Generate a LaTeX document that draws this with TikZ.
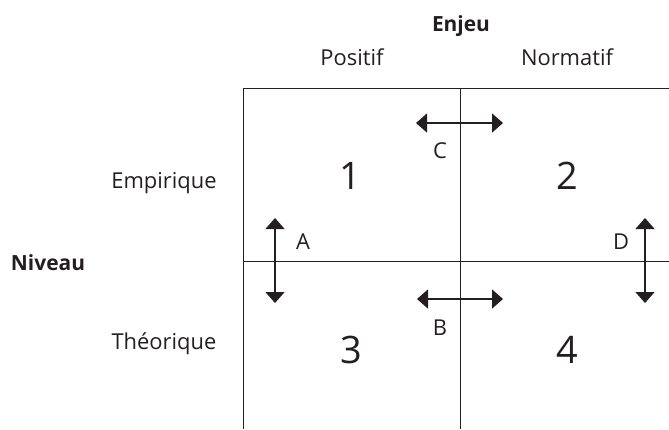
\documentclass[tikz,border=0pt]{standalone}
\usepackage{fontspec}
\setmainfont{Open Sans}
\usetikzlibrary{arrows.meta,positioning}
\definecolor{ink}{RGB}{35,31,32}

\begin{document}
\begin{tikzpicture}[x=1bp,y=-1bp,<->,>={Triangle[width=19bp,length=11bp]},line width=1.5bp,ink,
  lbl/.style={anchor=base,inner sep=0pt,font=\fontsize{22}{26}\selectfont},
  head/.style={lbl,font=\fontsize{21}{26}\selectfont\bfseries},
  num/.style={anchor=base,inner sep=0pt,font=\fontsize{38}{44}\selectfont},
  grid/.style={-,line width=1bp}]
	  \useasboundingbox (0,0) rectangle (669,429);
	  % frame
	  \coordinate (tl) at (243,88);
	  \coordinate (tr) at (669,88);
	  \coordinate (tm) at (460,88);
	  \coordinate (bl) at (243,429);
	  \coordinate (bm) at (460,429);
	  \coordinate (ml) at (243,261);
	  \coordinate (mr) at (669,261);
	  \draw[grid] (bl) -- (tl) -- (tr);
	  \draw[grid] (tm) -- (bm);
	  \draw[grid] (ml) -- (mr);
	  % headers
	  \node[head] (enjeu) at (461,31) {Enjeu};
	  \node[lbl] (positif)  at (352,65) {Positif};
	  \node[lbl] (normatif) at (567,65) {Normatif};
	  \node[head] (niveau) at (48,270) {Niveau};
	  \node[lbl] (empirique) at (164,188) {Empirique};
	  \node[lbl] (theorique) at (164,349) {Théorique};
	  % cells
	  \node[num] (c1) at (350,189) {1};
	  \node[num] (c2) at (567,189) {2};
	  \node[num] (c3) at (351,363) {3};
	  \node[num] (c4) at (567,363) {4};
	  % arrows
	  \coordinate (a1) at (275,218);
	  \coordinate (a2) at (275,303);
	  \coordinate (b1) at (417,299);
	  \coordinate (b2) at (503,299);
	  \coordinate (c1a) at (416,123);
	  \coordinate (c2a) at (503,123);
	  \coordinate (d1) at (645,218);
	  \coordinate (d2) at (645,303);
	  \path
(a1) edge (a2)
(b1) edge (b2)
(c1a) edge (c2a)
(d1) edge (d2)
;
	  \node[lbl] (A) at (303,249) {A};
	  \node[lbl] (B) at (440,335) {B};
	  \node[lbl] (C) at (440,158) {C};
	  \node[lbl] (D) at (621,249) {D};
	\end{tikzpicture}
\end{document}
